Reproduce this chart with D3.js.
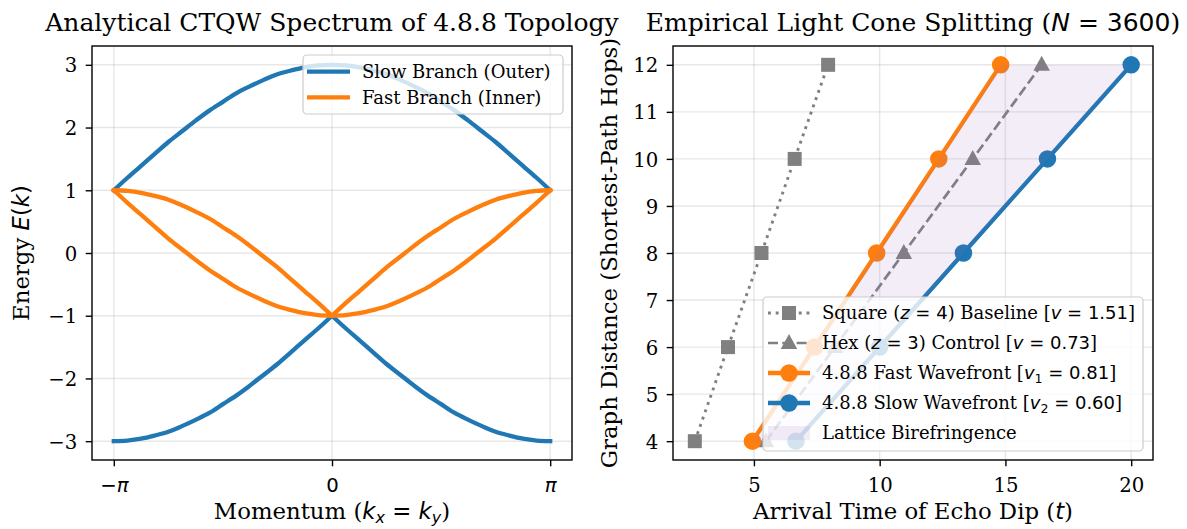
<!DOCTYPE html>
<html>
<head>
<meta charset="utf-8">
<script src="https://cdn.jsdelivr.net/npm/d3@7"></script>
<style>
  html, body { margin: 0; padding: 0; background: #ffffff; }
  svg { display: block; }
</style>
</head>
<body>
<svg id="chart" width="1187" height="529"></svg>
<script>
// ---------------- DATA ----------------
// Left panel: momentum along k_x = k_y, in units of pi
const momentumOverPi = [-1, -0.9375, -0.875, -0.8125, -0.75, -0.6875, -0.625, -0.5625, -0.5,
  -0.4375, -0.375, -0.3125, -0.25, -0.1875, -0.125, -0.0625, 0,
  0.0625, 0.125, 0.1875, 0.25, 0.3125, 0.375, 0.4375, 0.5,
  0.5625, 0.625, 0.6875, 0.75, 0.8125, 0.875, 0.9375, 1];
const slowUpper = [1.00, 1.20, 1.39, 1.58, 1.77, 1.94, 2.11, 2.27, 2.41, 2.55, 2.66, 2.76, 2.85, 2.91, 2.96, 2.99, 3.00,
  2.99, 2.96, 2.91, 2.85, 2.76, 2.66, 2.55, 2.41, 2.27, 2.11, 1.94, 1.77, 1.58, 1.39, 1.20, 1.00];
const slowLower = [-3.00, -2.99, -2.96, -2.91, -2.85, -2.76, -2.66, -2.55, -2.41, -2.27, -2.11, -1.94, -1.77, -1.58, -1.39, -1.20, -1.00,
  -1.20, -1.39, -1.58, -1.77, -1.94, -2.11, -2.27, -2.41, -2.55, -2.66, -2.76, -2.85, -2.91, -2.96, -2.99, -3.00];
const fastCusp = [1.00, 0.99, 0.96, 0.91, 0.85, 0.76, 0.66, 0.55, 0.41, 0.27, 0.11, -0.06, -0.23, -0.42, -0.61, -0.80, -1.00,
  -0.80, -0.61, -0.42, -0.23, -0.06, 0.11, 0.27, 0.41, 0.55, 0.66, 0.76, 0.85, 0.91, 0.96, 0.99, 1.00];
const fastBowl = [1.00, 0.80, 0.61, 0.42, 0.23, 0.06, -0.11, -0.27, -0.41, -0.55, -0.66, -0.76, -0.85, -0.91, -0.96, -0.99, -1.00,
  -0.99, -0.96, -0.91, -0.85, -0.76, -0.66, -0.55, -0.41, -0.27, -0.11, 0.06, 0.23, 0.42, 0.61, 0.80, 1.00];
const momentumTicks = [-1, 0, 1];
const momentumTickLabels = ["\u2212\u03c0", "0", "\u03c0"];
const energyTicks = [-3, -2, -1, 0, 1, 2, 3];

// Right panel: graph distance (hops) vs arrival time of echo dip
const hops = [4, 6, 8, 10, 12];
const squareTimes = [2.65, 3.97, 5.30, 6.62, 7.95];
const hexTimes = [5.48, 8.22, 10.96, 13.70, 16.44];
const fastTimes = [4.94, 7.41, 9.88, 12.35, 14.81];
const slowTimes = [6.67, 10.00, 13.33, 16.67, 20.00];
const timeTicks = [5, 10, 15, 20];
const hopTicks = [4, 5, 6, 7, 8, 9, 10, 11, 12];

// ---------------- STYLE ----------------
const SERIF = "'DejaVu Serif', serif";
const SANS = "'DejaVu Sans', sans-serif";
const C_BLUE = "#1f77b4", C_ORANGE = "#ff7f0e", C_GRAY = "#808080", C_PURPLE = "#9467bd";
const FS_TITLE = 25, FS_LABEL = 22.8, FS_TICK = 19.7, FS_LEG = 18;

const svg = d3.select("#chart");

// rich text helper
function rich(textSel, parts, fs) {
  parts.forEach(p => {
    const ts = textSel.append("tspan").text(p.t);
    if (p.m === 'i') ts.attr("font-family", SANS).attr("font-style", "italic");
    else if (p.m === 'r') ts.attr("font-family", SANS);
    else if (p.m === 'sub') {
      ts.attr("font-family", SANS).attr("font-style", "italic")
        .attr("font-size", fs * 0.7).attr("dy", fs * 0.16);
    } else if (p.m === 'subr') {
      ts.attr("font-family", SANS).attr("font-size", fs * 0.7).attr("dy", fs * 0.2);
    } else if (p.m === 'up') {
      ts.attr("dy", -fs * 0.16);
    } else if (p.m === 'upr') {
      ts.attr("font-family", SANS).attr("dy", -fs * 0.2);
    } else if (p.m === 'upr2') {
      ts.attr("font-family", SANS).attr("dy", -fs * 0.16);
    }
  });
}

function panel(cfg) {
  const g = svg.append("g");
  const { x, y } = cfg;
  const [X0, X1] = x.range(); const [Y1, Y0] = y.range();
  const grid = g.append("g");
  cfg.xTicks.forEach(v => grid.append("line").attr("x1", x(v)).attr("x2", x(v)).attr("y1", Y0).attr("y2", Y1));
  cfg.yTicks.forEach(v => grid.append("line").attr("x1", X0).attr("x2", X1).attr("y1", y(v)).attr("y2", y(v)));
  grid.selectAll("line").attr("stroke", "#b0b0b0").attr("stroke-opacity", 0.3).attr("stroke-width", 1.4);
  const plot = g.append("g");
  const xAxis = g.append("g").attr("transform", `translate(0,${Y1})`)
    .call(d3.axisBottom(x).tickValues(cfg.xTicks).tickSize(6.3).tickPadding(6).tickFormat(cfg.xFmt || d3.format("d")));
  const yAxis = g.append("g").attr("transform", `translate(${X0},0)`)
    .call(d3.axisLeft(y).tickValues(cfg.yTicks).tickSize(6.3).tickPadding(8.5).tickFormat(v => v < 0 ? "\u2212" + Math.abs(v) : String(v)));
  [xAxis, yAxis].forEach(a => {
    a.select(".domain").remove();
    a.selectAll(".tick line").attr("stroke", "#000").attr("stroke-width", 1.4);
    a.selectAll(".tick text").attr("font-family", SERIF).attr("font-size", FS_TICK).attr("fill", "#000");
  });
  xAxis.selectAll(".tick text").attr("dy", null).attr("y", 32);
  yAxis.selectAll(".tick text").attr("dy", "0.36em");
  g.append("rect").attr("x", X0).attr("y", Y0).attr("width", X1 - X0).attr("height", Y1 - Y0)
    .attr("fill", "none").attr("stroke", "#000").attr("stroke-width", 1.4);
  const tt = g.append("text").attr("x", (X0 + X1) / 2).attr("y", 31).attr("text-anchor", "middle")
    .attr("font-family", SERIF).attr("font-size", FS_TITLE).attr("fill", "#000");
  rich(tt, cfg.title, FS_TITLE);
  const xl = g.append("text").attr("x", (X0 + X1) / 2).attr("y", 519).attr("text-anchor", "middle")
    .attr("font-family", SERIF).attr("font-size", FS_LABEL).attr("fill", "#000");
  rich(xl, cfg.xLabel, FS_LABEL);
  const yl = g.append("text").attr("transform", `translate(${cfg.yLabelX},${(Y0 + Y1) / 2}) rotate(-90)`)
    .attr("text-anchor", "middle").attr("font-family", SERIF).attr("font-size", FS_LABEL).attr("fill", "#000");
  rich(yl, cfg.yLabel, FS_LABEL);
  return { g, plot, xAxis, yAxis };
}

// ---------------- LEFT PANEL ----------------
const xL = d3.scaleLinear().domain([-1.1, 1.1]).range([92, 572]);
const yL = d3.scaleLinear().domain([-3.3, 3.3]).range([460, 46]);
const left = panel({
  x: xL, y: yL, xTicks: momentumTicks, yTicks: energyTicks,
  xFmt: v => momentumTickLabels[momentumTicks.indexOf(v)],
  title: [{ t: "Analytical CTQW Spectrum of 4.8.8 Topology" }],
  xLabel: [{ t: "Momentum (" }, { t: "k", m: 'i' }, { t: "x", m: 'sub' }, { t: " = ", m: 'upr2' }, { t: "k", m: 'i' }, { t: "y", m: 'sub' }, { t: ")", m: 'up' }],
  yLabel: [{ t: "Energy " }, { t: "E", m: 'i' }, { t: "(", m: 'r' }, { t: "k", m: 'i' }, { t: ")", m: 'r' }],
  yLabelX: 29
});
left.xAxis.selectAll(".tick text").attr("font-family", SANS).each(function (d) {
  if (d !== 0) d3.select(this).attr("font-style", "italic");
});

function curvePath(vals) {
  const pts = momentumOverPi.map((k, i) => [k, vals[i]]);
  const leftHalf = pts.filter(p => p[0] <= 0), rightHalf = pts.filter(p => p[0] >= 0);
  const line = d3.line().x(p => xL(p[0])).y(p => yL(p[1])).curve(d3.curveCatmullRom.alpha(0.5));
  return line(leftHalf) + line(rightHalf).replace(/^M/, "L");
}
[[slowUpper, C_BLUE], [slowLower, C_BLUE], [fastCusp, C_ORANGE], [fastBowl, C_ORANGE]].forEach(([vals, col]) => {
  left.plot.append("path").attr("d", curvePath(vals)).attr("fill", "none").attr("stroke", col)
    .attr("stroke-width", 4.3).attr("stroke-linejoin", "round").attr("stroke-linecap", "square");
});

// ---------------- RIGHT PANEL ----------------
const allTimes = squareTimes.concat(hexTimes, fastTimes, slowTimes);
const tMin = d3.min(allTimes), tMax = d3.max(allTimes), tPad = (tMax - tMin) * 0.05;
const hMin = d3.min(hops), hMax = d3.max(hops), hPad = (hMax - hMin) * 0.05;
const xR = d3.scaleLinear().domain([tMin - tPad, tMax + tPad]).range([673, 1153]);
const yR = d3.scaleLinear().domain([hMin - hPad, hMax + hPad]).range([460, 46]);
const right = panel({
  x: xR, y: yR, xTicks: timeTicks, yTicks: hopTicks,
  title: [{ t: "Empirical Light Cone Splitting (" }, { t: "N", m: 'i' }, { t: " = 3600", m: 'r' }, { t: ")" }],
  xLabel: [{ t: "Arrival Time of Echo Dip (" }, { t: "t", m: 'i' }, { t: ")" }],
  yLabel: [{ t: "Graph Distance (Shortest-Path Hops)" }],
  yLabelX: 617
});

const lineR = d3.line().x(d => xR(d[0])).y(d => yR(d[1]));
const series = [
  { times: squareTimes, color: C_GRAY, width: 2.9, dash: "2.9,4.8", marker: "square", size: 14 },
  { times: hexTimes, color: C_GRAY, width: 2.7, dash: "10,4.3", marker: "triangle", size: 15 },
  { times: fastTimes, color: C_ORANGE, width: 4.3, dash: null, marker: "circle", size: 17.5 },
  { times: slowTimes, color: C_BLUE, width: 4.3, dash: null, marker: "circle", size: 17.5 }
];
function drawMarker(sel, type, cx, cy, size, color) {
  if (type === "square") {
    sel.append("rect").attr("x", cx - size / 2).attr("y", cy - size / 2).attr("width", size).attr("height", size).attr("fill", color);
  } else if (type === "triangle") {
    const h = size, w = size * 1.1;
    sel.append("path").attr("d", `M${cx},${cy - h * 0.6}L${cx + w / 2},${cy + h * 0.4}L${cx - w / 2},${cy + h * 0.4}Z`).attr("fill", color);
  } else {
    sel.append("circle").attr("cx", cx).attr("cy", cy).attr("r", size / 2).attr("fill", color);
  }
}
series.forEach(s => {
  const pts = hops.map((h, i) => [s.times[i], h]);
  const p = right.plot.append("path").attr("d", lineR(pts)).attr("fill", "none").attr("stroke", s.color)
    .attr("stroke-width", s.width).attr("stroke-linejoin", "round");
  if (s.dash) p.attr("stroke-dasharray", s.dash);
  pts.forEach(pt => drawMarker(right.plot, s.marker, xR(pt[0]), yR(pt[1]), s.size, s.color));
});
const area = d3.area().y(d => yR(d[0])).x0(d => xR(d[1])).x1(d => xR(d[2]));
right.plot.append("path").attr("d", area(hops.map((h, i) => [h, fastTimes[i], slowTimes[i]])))
  .attr("fill", C_PURPLE).attr("fill-opacity", 0.12);

// ---------------- LEGENDS ----------------
function legendBox(x, y, w, h) {
  svg.append("rect").attr("x", x).attr("y", y).attr("width", w).attr("height", h).attr("rx", 4)
    .attr("fill", "#fff").attr("fill-opacity", 0.8).attr("stroke", "#cccccc").attr("stroke-width", 1.2);
}
legendBox(303, 55, 260, 59);
const leftLegend = [
  { label: [{ t: "Slow Branch (Outer)" }], color: C_BLUE },
  { label: [{ t: "Fast Branch (Inner)" }], color: C_ORANGE }
];
leftLegend.forEach((e, i) => {
  const cy = 71.7 + i * 25.6;
  svg.append("line").attr("x1", 307).attr("x2", 350).attr("y1", cy).attr("y2", cy).attr("stroke", e.color).attr("stroke-width", 4.3);
  const t = svg.append("text").attr("x", 362).attr("y", cy).attr("dy", "0.36em").attr("font-family", SERIF).attr("font-size", FS_LEG);
  rich(t, e.label, FS_LEG);
});
legendBox(763, 297, 380, 154);
const rightLegend = [
  { s: series[0], label: [{ t: "Square (" }, { t: "z", m: 'i' }, { t: " = 4", m: 'r' }, { t: ") Baseline [" }, { t: "v", m: 'i' }, { t: " = 1.51", m: 'r' }, { t: "]" }] },
  { s: series[1], label: [{ t: "Hex (" }, { t: "z", m: 'i' }, { t: " = 3", m: 'r' }, { t: ") Control [" }, { t: "v", m: 'i' }, { t: " = 0.73", m: 'r' }, { t: "]" }] },
  { s: series[2], label: [{ t: "4.8.8 Fast Wavefront [" }, { t: "v", m: 'i' }, { t: "1", m: 'subr' }, { t: " = 0.81", m: 'upr' }, { t: "]" }] },
  { s: series[3], label: [{ t: "4.8.8 Slow Wavefront [" }, { t: "v", m: 'i' }, { t: "2", m: 'subr' }, { t: " = 0.60", m: 'upr' }, { t: "]" }] },
  { s: null, label: [{ t: "Lattice Birefringence" }] }
];
rightLegend.forEach((e, i) => {
  const cy = 313 + i * 30;
  if (e.s) {
    const l = svg.append("line").attr("x1", 768).attr("x2", 810).attr("y1", cy).attr("y2", cy)
      .attr("stroke", e.s.color).attr("stroke-width", e.s.width);
    if (e.s.dash) l.attr("stroke-dasharray", e.s.dash);
    drawMarker(svg, e.s.marker, 789, cy, e.s.size, e.s.color);
  } else {
    svg.append("rect").attr("x", 768).attr("y", cy - 7).attr("width", 42).attr("height", 14)
      .attr("fill", C_PURPLE).attr("fill-opacity", 0.12);
  }
  const t = svg.append("text").attr("x", 822).attr("y", cy).attr("dy", "0.36em").attr("font-family", SERIF).attr("font-size", FS_LEG);
  rich(t, e.label, FS_LEG);
});
</script>
</body>
</html>
